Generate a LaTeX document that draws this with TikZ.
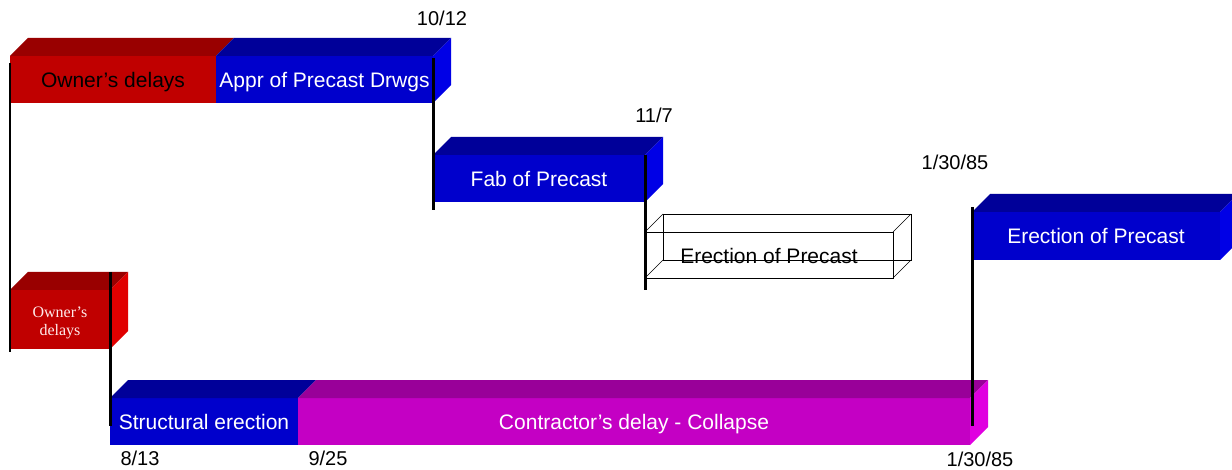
\documentclass[tikz,border=0pt]{standalone}
\usepackage{fontspec}
\setmainfont{Liberation Sans}
\newfontfamily\timesfont{Liberation Serif}
\usetikzlibrary{positioning}
\definecolor{ownred}{HTML}{C00000}
\definecolor{redtop}{HTML}{990000}
\definecolor{redside}{HTML}{E00000}
\definecolor{apprblue}{HTML}{0000CC}
\definecolor{bluetop}{HTML}{000099}
\definecolor{blueside}{HTML}{0000E6}
\definecolor{collmag}{HTML}{C400C4}
\definecolor{magtop}{HTML}{990099}
\definecolor{magside}{HTML}{E000E0}
\tikzset{
  bar/.style={inner sep=0pt, outer sep=0pt, anchor=north west, minimum height=47pt,
    text height=18pt, text depth=2pt,
    font=\fontsize{21}{24}\selectfont, text=white},
  date/.style={font=\fontsize{20}{24}\selectfont},
  marker/.style={line width=3pt},
}

\begin{document}
\begin{tikzpicture}[x=1pt,y=-1pt]
\useasboundingbox (0,0) rectangle (1232,470);

% bars (front faces)
\node[bar, fill=ownred, text=black, minimum width=206pt] (own1) at (10,56) {Owner’s delays};
\node[bar, fill=apprblue, right=0pt of own1, minimum width=217pt] (appr) {Appr of Precast Drwgs};
\node[bar, fill=apprblue, minimum width=212pt] (fab) at (433,155) {Fab of Precast};
\node[bar, draw=black, thin, text=black, minimum width=248pt, minimum height=46pt] (erect) at (645,232) {};
\node[bar, fill=apprblue, minimum width=248pt, minimum height=48pt] (erect2) at (972,212) {Erection of Precast};
\node[bar, fill=ownred, minimum width=100pt, minimum height=59pt] (own2) at (10,290) {};
\node[bar, fill=apprblue, minimum width=188pt] (struct) at (110,398) {Structural erection};
\node[bar, fill=collmag, right=0pt of struct, minimum width=672pt] (collapse) {Contractor’s delay - Collapse};

% top and side faces
\foreach \n/\c in {own1/redtop, appr/bluetop, fab/bluetop, erect2/bluetop, own2/redtop, struct/bluetop, collapse/magtop}
  \fill[\c] (\n.north west) -- ++(18,-18) -- ([shift={(18,-18)}]\n.north east) -- (\n.north east) -- cycle;
\foreach \n/\c in {appr/blueside, fab/blueside, erect2/blueside, own2/redside, collapse/magside}
  \fill[\c] (\n.north east) -- ++(18,-18) -- ([shift={(18,-18)}]\n.south east) -- (\n.south east) -- cycle;

% wire frame box
\draw[thin] ([shift={(18,-18)}]erect.north west) rectangle ([shift={(18,-18)}]erect.south east);
\foreach \a in {north west, north east, south west, south east}
  \draw[thin] (erect.\a) -- ++(18,-18);
\node[font=\fontsize{21}{24}\selectfont] (erecttext) at ([yshift=-1pt]erect.center) {Erection of Precast};
\node[text=red!8, font=\timesfont\fontsize{16}{18}\selectfont, align=center, inner sep=0pt]
  (own2text) at ([yshift=-3pt]own2.center) {Owner’s\\delays};

% milestones
\draw[line width=1.5pt] ([yshift=-7pt]own1.north west) -- ([yshift=-3pt]own2.south west);
\draw[marker] ([yshift=-2pt]appr.north east) -- ([yshift=-8pt]fab.south west);
\draw[marker] (fab.north east) -- ([yshift=-12pt]erect.south west);
\draw[marker] ([yshift=18pt]own2.north east) -- ([yshift=-4pt]struct.west);
\draw[marker] ([yshift=5pt]erect2.north west) -- ([yshift=-4pt]erect2.west |- collapse.east);

% dates
\node[date] (d1012) at (442,18) {10/12};
\node[date] (d117) at (654,115) {11/7};
\node[date] (d13085a) at (955,162) {1/30/85};
\node[date] (d813) at (140,458) {8/13};
\node[date] (d925) at (328,458) {9/25};
\node[date] (d13085b) at (980,459) {1/30/85};
\end{tikzpicture}
\end{document}
